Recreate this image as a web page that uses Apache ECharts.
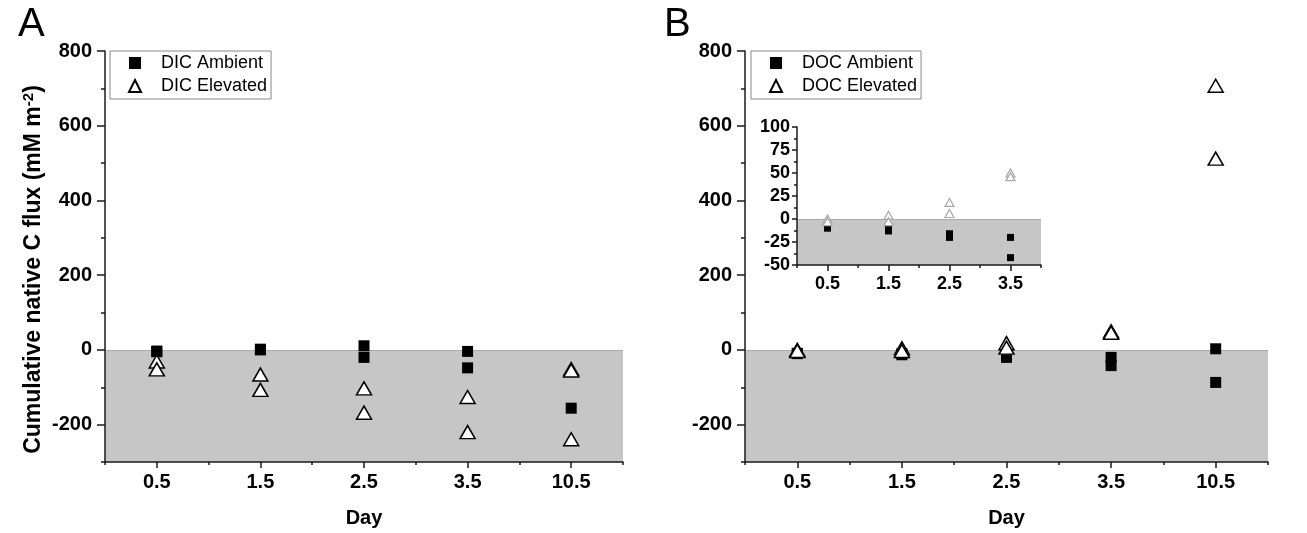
<!DOCTYPE html>
<html>
<head>
<meta charset="utf-8">
<script src="https://cdn.jsdelivr.net/npm/echarts@6/dist/echarts.min.js"></script>
<style>
  html, body { margin: 0; padding: 0; background: #fff; }
  #main { width: 1307px; height: 533px; }
</style>
</head>
<body>
<div id="main"></div>
<script>
// days (plotted evenly at 0.5 .. 4.5)
const days = ['0.5', '1.5', '2.5', '3.5', '10.5'];
// replicate values per day, mM m-2
const dicAmbient = [[-3, -5], [0, 2], [11, -20], [-4, -48], [-156]];
const dicElevated = [[-31, -52], [-66, -107], [-103, -168], [-126, -220], [-51, -55, -239]];
const docAmbient = [[-9, -10], [-10, -13], [-16, -20], [-20, -42], [3, -87]];
const docElevated = [[0, -3], [4, -3], [18, 6], [50, 46], [707, 512]];
// tick labels
const mainTicks = [-200, 0, 200, 400, 600, 800];
const dayPos = [0.5, 1.5, 2.5, 3.5, 4.5];
const insetPos = [0.5, 1.5, 2.5, 3.5];

const FONT = 'Liberation Sans, Arial, sans-serif';
const AX = '#1a1a1a';

function pts(arr, n) {
  let out = [];
  arr.slice(0, n).forEach(function (vals, i) {
    vals.forEach(function (v) { out.push([i + 0.5, v]); });
  });
  return out;
}

function xAxisOf(grid, max, customs, fs, withName) {
  return {
    gridIndex: grid, type: 'value', min: 0, max: max, interval: 1, z: 5,
    axisLine: { onZero: false, lineStyle: { color: AX, width: 1.5 } },
    axisTick: { length: 3, lineStyle: { color: AX, width: 1.5 } },
    minorTick: { show: true, splitNumber: 2, length: 6, lineStyle: { color: AX, width: 1.5 } },
    splitLine: { show: false },
    axisLabel: {
      customValues: customs, margin: 10, color: '#000', fontFamily: FONT,
      fontWeight: 'bold', fontSize: fs,
      formatter: function (v) { return days[Math.round(v - 0.5)]; }
    },
    name: withName ? 'Day' : '', nameLocation: 'middle', nameGap: 46,
    nameTextStyle: { color: '#000', fontFamily: FONT, fontWeight: 'bold', fontSize: 20 }
  };
}

function mainYAxes(grid, withName) {
  return [{
    gridIndex: grid, type: 'value', position: 'left', min: -300, max: 800, interval: 100, z: 5,
    axisLine: { show: true, onZero: false, lineStyle: { color: AX, width: 1.5 } },
    axisTick: { show: true, length: 4, lineStyle: { color: AX, width: 1.5 } },
    splitLine: { show: false },
    axisLabel: { customValues: mainTicks, margin: 13, color: '#000', fontFamily: FONT, fontWeight: 'bold', fontSize: 20 },
    name: withName ? '{a|Cumulative native C flux (mM m}{s|-2}{a|)}' : '',
    nameLocation: 'middle', nameGap: 59,
    nameTextStyle: {
      padding: [0, 26, 0, 0],
      rich: {
        a: { fontFamily: FONT, fontWeight: 'bold', fontSize: 23, color: '#000' },
        s: { fontFamily: FONT, fontWeight: 'bold', fontSize: 15, color: '#000', padding: [0, 0, 10, 0] }
      }
    }
  }, {
    // longer ticks at the labelled values
    gridIndex: grid, type: 'value', position: 'left', min: -300, max: 800, z: 5,
    axisLine: { show: false, onZero: false },
    axisTick: { show: true, customValues: mainTicks, length: 8, lineStyle: { color: AX, width: 1.5 } },
    axisLabel: { show: false },
    splitLine: { show: false }
  }];
}

const grayStyle = { color: '#c6c6c6', opacity: 1 };
const zeroLine = { silent: true, z: 2, symbol: 'none', label: { show: false }, lineStyle: { color: '#ababab', width: 1, type: 'solid' }, data: [{ yAxis: 0 }] };
const sqStyle = { color: '#000', opacity: 1 };
const triStyle = { color: '#fff', borderColor: '#000', borderWidth: 1.5, opacity: 1 };

function legendOf(names, left) {
  return {
    data: names, orient: 'vertical', left: left, top: 51,
    itemWidth: 12, itemHeight: 12, itemGap: 5, padding: [3, 4, 4, 18],
    borderColor: '#888', borderWidth: 1, selectedMode: false,
    textStyle: { fontFamily: FONT, fontSize: 18, color: '#000', padding: [0, 0, 0, 15] }
  };
}

let option = {
  animation: false,
  textStyle: { fontFamily: FONT },
  title: [
    { text: 'A', left: 13, top: 0, textStyle: { fontFamily: FONT, fontWeight: 'normal', fontSize: 40, color: '#000' } },
    { text: 'B', left: 659, top: 0, textStyle: { fontFamily: FONT, fontWeight: 'normal', fontSize: 40, color: '#000' } }
  ],
  legend: [
    legendOf(['DIC Ambient', 'DIC Elevated'], 110),
    legendOf(['DOC Ambient', 'DOC Elevated'], 751)
  ],
  grid: [
    { left: 105, top: 51, width: 518, height: 412 },
    { left: 745, top: 51, width: 523, height: 412 },
    { left: 797, top: 127, width: 244, height: 138 }
  ],
  xAxis: [
    xAxisOf(0, 5, dayPos, 20, true),
    xAxisOf(1, 5, dayPos, 20, true),
    xAxisOf(2, 4, insetPos, 18, false)
  ],
  yAxis: mainYAxes(0, true).concat(mainYAxes(1, false)).concat([{
    gridIndex: 2, type: 'value', position: 'left', min: -50, max: 100, interval: 25, z: 5,
    axisLine: { show: true, onZero: false, lineStyle: { color: AX, width: 1.5 } },
    axisTick: { show: true, length: 5, lineStyle: { color: AX, width: 1.5 } },
    minorTick: { show: true, splitNumber: 2, length: 3, lineStyle: { color: AX, width: 1.5 } },
    splitLine: { show: false },
    axisLabel: { margin: 7, color: '#000', fontFamily: FONT, fontWeight: 'bold', fontSize: 18 }
  }]),
  series: [
    {
      name: 'DIC Ambient', type: 'scatter', xAxisIndex: 0, yAxisIndex: 0,
      symbol: 'rect', symbolSize: 11, itemStyle: sqStyle, z: 3,
      data: pts(dicAmbient, 5),
      markArea: { silent: true, z: 1, itemStyle: grayStyle, data: [[{ xAxis: 0, yAxis: -300 }, { xAxis: 5, yAxis: 0 }]] },
      markLine: zeroLine
    },
    {
      name: 'DIC Elevated', type: 'scatter', xAxisIndex: 0, yAxisIndex: 0,
      symbol: 'triangle', symbolSize: [15, 13], itemStyle: triStyle, z: 4,
      data: pts(dicElevated, 5)
    },
    {
      name: 'DOC Ambient', type: 'scatter', xAxisIndex: 1, yAxisIndex: 2,
      symbol: 'rect', symbolSize: 11, itemStyle: sqStyle, z: 3,
      data: pts(docAmbient, 5),
      markArea: { silent: true, z: 1, itemStyle: grayStyle, data: [[{ xAxis: 0, yAxis: -300 }, { xAxis: 5, yAxis: 0 }]] },
      markLine: zeroLine
    },
    {
      name: 'DOC Elevated', type: 'scatter', xAxisIndex: 1, yAxisIndex: 2,
      symbol: 'triangle', symbolSize: [15, 13], itemStyle: triStyle, z: 4,
      data: pts(docElevated, 5)
    },
    {
      name: 'inset ambient', type: 'scatter', xAxisIndex: 2, yAxisIndex: 4,
      symbol: 'rect', symbolSize: 7, itemStyle: sqStyle, z: 3,
      data: pts(docAmbient, 4),
      markArea: { silent: true, z: 1, itemStyle: grayStyle, data: [[{ xAxis: 0, yAxis: -50 }, { xAxis: 4, yAxis: 0 }]] },
      markLine: zeroLine
    },
    {
      name: 'inset elevated', type: 'scatter', xAxisIndex: 2, yAxisIndex: 4,
      symbol: 'triangle', symbolSize: [9, 8], z: 4,
      itemStyle: { color: '#fff', borderColor: '#a8a8a8', borderWidth: 1.2, opacity: 1 },
      data: pts(docElevated, 4)
    }
  ]
};

const chart = echarts.init(document.getElementById('main'), null, { renderer: 'canvas' });
chart.setOption(option);
</script>
</body>
</html>
